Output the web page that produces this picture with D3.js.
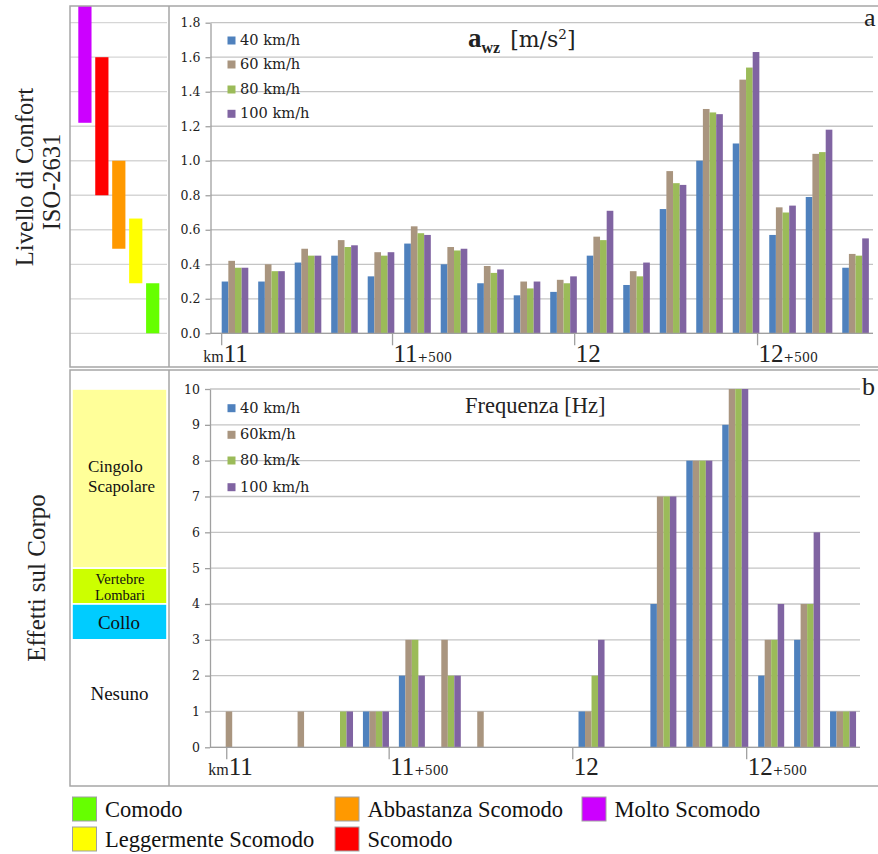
<!DOCTYPE html>
<html>
<head>
<meta charset="utf-8">
<script src="https://cdn.jsdelivr.net/npm/d3@7"></script>
<style>
  html, body { margin: 0; padding: 0; background: #fff; }
  svg { display: block; }
</style>
</head>
<body>
<svg id="fig" width="878" height="854"></svg>
<script>
// ---- data ---------------------------------------------------------------
const stations = ["S01","S02","S03","S04","S05","S06","S07","S08","S09",
                  "S10","S11","S12","S13","S14","S15","S16","S17","S18"];
const speeds = ["40 km/h", "60 km/h", "80 km/h", "100 km/h"];
const speedColors = ["#4f81bd", "#a9957f", "#9bbb59", "#8064a2"];

// weighted vertical acceleration a_wz [m/s^2]
const aw40  = [0.30,0.30,0.41,0.45,0.33,0.52,0.40,0.29,0.22,0.24,0.45,0.28,0.72,1.00,1.10,0.57,0.79,0.38];
const aw60  = [0.42,0.40,0.49,0.54,0.47,0.62,0.50,0.39,0.30,0.31,0.56,0.36,0.94,1.30,1.47,0.73,1.04,0.46];
const aw80  = [0.38,0.36,0.45,0.50,0.45,0.58,0.48,0.35,0.26,0.29,0.54,0.33,0.87,1.28,1.54,0.70,1.05,0.45];
const aw100 = [0.38,0.36,0.45,0.51,0.47,0.57,0.49,0.37,0.30,0.33,0.71,0.41,0.86,1.27,1.63,0.74,1.18,0.55];

// dominant frequency [Hz]
const f40  = [0,0,0,0,1,2,0,0,0,0,1,0,4,8,9,2,3,1];
const f60  = [1,0,1,0,1,3,3,1,0,0,1,0,7,8,10,3,4,1];
const f80  = [0,0,0,1,1,3,2,0,0,0,2,0,7,8,10,3,4,1];
const f100 = [0,0,0,1,1,2,2,0,0,0,3,0,7,8,10,4,6,1];

const awTicks = [0,0.2,0.4,0.6,0.8,1.0,1.2,1.4,1.6,1.8];
const fTicks  = [0,1,2,3,4,5,6,7,8,9,10];

// chainage ticks, expressed as station offsets along each chart
const kmMain   = ["11", "11", "12", "12"];
const kmSuffix = ["", "+500", "", "+500"];
const kmAtTop    = [0, 4.68, 9.67, 14.68];
const kmAtBottom = [0.21, 4.73, 9.84, 14.68];

// ISO 2631 comfort classes (ranges of a_wz)
const comfortNames = ["Molto Scomodo", "Scomodo", "Abbastanza Scomodo", "Leggermente Scomodo", "Comodo"];
const comfortColors = ["#cc00ff", "#ff0000", "#ff9900", "#ffff00", "#66ff00"];
const comfortLow  = [1.22, 0.80, 0.49, 0.29, 0.0];
const comfortHigh = [2.50, 1.60, 1.00, 0.665, 0.29];

// body regions affected (frequency ranges)
const bodyNames  = [["Cingolo", "Scapolare"], ["Vertebre", "Lombari"], ["Collo"], ["Nesuno"]];
const bodyColors = ["#ffff99", "#ccff00", "#00ccff", "none"];
const bodyLow  = [5, 4, 3, 0];
const bodyHigh = [10, 5, 4, 3];

// ---- drawing ------------------------------------------------------------
const svg = d3.select("#fig");
svg.append("rect").attr("width", 878).attr("height", 854).attr("fill", "#fff");

const SERIF = "'Liberation Serif', 'Times New Roman', serif";
const WIDE  = "'DejaVu Serif', serif";
const frameColor = "#a6a6a6";
const gridColor = "#c4c4c4";
const textColor = "#222";

const defs = svg.append("defs");
defs.append("clipPath").attr("id", "clipTop")
  .append("rect").attr("x", 70).attr("y", 6).attr("width", 810).attr("height", 361);

function barChart(g, opts) {
  const { y, x0, x1, left, right, series, kmAt } = opts;
  const x = d3.scaleBand().domain(stations).range([x0, x1])
    .paddingInner(opts.padIn).paddingOuter(opts.padOut).align(opts.align);
  const xs = d3.scaleBand().domain(speeds).range([0, x.bandwidth()]);

  // grid
  g.append("g").selectAll("line").data(opts.ticks).join("line")
    .attr("x1", left).attr("x2", right)
    .attr("y1", d => y(d)).attr("y2", d => y(d))
    .attr("stroke", gridColor).attr("stroke-width", 1.3);

  // y axis
  const ax = g.append("g").attr("transform", `translate(${left},0)`)
    .call(d3.axisLeft(y).tickValues(opts.ticks).tickFormat(opts.fmt).tickSize(5).tickSizeOuter(0));
  ax.select(".domain").attr("stroke", "#a0a0a0").attr("stroke-width", 1.3);
  ax.selectAll(".tick line").attr("stroke", "#a0a0a0").attr("stroke-width", 1.3);
  ax.selectAll(".tick text").attr("x", -10).attr("fill", textColor)
    .style("font-family", WIDE).style("font-size", "12.5px");

  // bars
  const rows = stations.map((s, i) => ({ s, vals: series.map(a => a[i]) }));
  const grp = g.append("g").selectAll("g").data(rows).join("g")
    .attr("transform", d => `translate(${x(d.s)},0)`);
  grp.selectAll("rect").data(d => d.vals.map((v, k) => ({ v, k }))).join("rect")
    .attr("x", d => xs(speeds[d.k]))
    .attr("width", xs.bandwidth())
    .attr("y", d => y(d.v))
    .attr("height", d => y(0) - y(d.v))
    .attr("fill", d => speedColors[d.k]);

  // baseline
  g.append("line").attr("x1", left).attr("x2", right)
    .attr("y1", y(0)).attr("y2", y(0)).attr("stroke", "#a0a0a0").attr("stroke-width", 1.3);

  // chainage ticks
  const st = d3.scaleLinear().domain([0, stations.length - 1])
    .range([x(stations[0]), x(stations[stations.length - 1])]);
  kmAt.forEach((p, i) => {
    const tx = st(p);
    g.append("line").attr("x1", tx).attr("x2", tx)
      .attr("y1", y(0)).attr("y2", y(0) + 12)
      .attr("stroke", "#a0a0a0").attr("stroke-width", 1.3);
    const t = g.append("text").attr("y", y(0) + opts.labelDy)
      .attr("fill", textColor).style("font-family", SERIF);
    if (i === 0) {
      t.attr("x", tx - 18.5);
      t.append("tspan").text("km").style("font-size", "16px");
      t.append("tspan").text(kmMain[i]).style("font-size", "25px");
    } else {
      t.attr("x", tx + 1);
      t.append("tspan").text(kmMain[i]).style("font-size", "25px");
      t.append("tspan").text(kmSuffix[i]).style("font-family", WIDE).style("font-size", "12.5px");
    }
  });

  // legend
  const lg = g.append("g");
  opts.legendLabels.forEach((lab, k) => {
    const by = opts.legendY[k];
    lg.append("rect").attr("x", 227.5).attr("y", by - 8.5)
      .attr("width", 8).attr("height", 8).attr("fill", speedColors[k]);
    lg.append("text").attr("x", 240).attr("y", by).text(lab)
      .attr("fill", textColor).style("font-family", WIDE).style("font-size", "14.6px");
  });
  return x;
}

// ===== panel a : comfort =====
const gA = svg.append("g");
const yA = d3.scaleLinear().domain([0, 1.8]).range([333.3, 22.7]);

// left strip grid and comfort bars
gA.append("g").selectAll("line").data(awTicks).join("line")
  .attr("x1", 70).attr("x2", 167)
  .attr("y1", d => yA(d)).attr("y2", d => yA(d))
  .attr("stroke", "#d6d6d6").attr("stroke-width", 1.3);
const xC = d3.scaleBand().domain(comfortNames).range([78.3, 159.3]).paddingInner(0.22);
gA.append("g").attr("clip-path", "url(#clipTop)")
  .selectAll("rect").data(comfortNames).join("rect")
  .attr("x", d => xC(d)).attr("width", xC.bandwidth())
  .attr("y", (d, i) => yA(comfortHigh[i]))
  .attr("height", (d, i) => yA(comfortLow[i]) - yA(comfortHigh[i]))
  .attr("fill", (d, i) => comfortColors[i]);

barChart(gA, {
  y: yA, x0: 210.5, x1: 873, left: 210.5, right: 873,
  padIn: 0.271, padOut: 0.21, align: 0.73,
  series: [aw40, aw60, aw80, aw100], ticks: awTicks, fmt: d3.format(".1f"),
  kmAt: kmAtTop, labelDy: 29,
  legendLabels: ["40 km/h", "60 km/h", "80 km/h", "100 km/h"],
  legendY: [45, 69, 94, 118.3]
});

// title a_wz [m/s2]
const tA = gA.append("text").attr("x", 468).attr("y", 46.7).attr("fill", textColor);
tA.append("tspan").text("a").style("font-family", SERIF).style("font-weight", "bold").style("font-size", "27px");
tA.append("tspan").text("wz").attr("dy", 6).style("font-family", SERIF).style("font-weight", "bold").style("font-size", "16px");
tA.append("tspan").text("[m/s").attr("dy", -6).attr("dx", 10).style("font-family", WIDE).style("font-size", "22px");
tA.append("tspan").text("2").attr("dy", -8).style("font-family", WIDE).style("font-size", "13.5px");
tA.append("tspan").text("]").attr("dy", 8).style("font-family", WIDE).style("font-size", "22px");

gA.append("text").attr("x", 864).attr("y", 26).text("a")
  .attr("fill", textColor).style("font-family", SERIF).style("font-size", "26px");

// y title
gA.append("text").attr("transform", "translate(33,177) rotate(-90)")
  .attr("text-anchor", "middle").text("Livello di Confort")
  .attr("fill", textColor).style("font-family", SERIF).style("font-size", "24.5px");
gA.append("text").attr("transform", "translate(60,182) rotate(-90)")
  .attr("text-anchor", "middle").text("ISO-2631")
  .attr("fill", textColor).style("font-family", SERIF).style("font-size", "24.5px");

// frame
gA.append("rect").attr("x", 70).attr("y", 6).attr("width", 812).attr("height", 361)
  .attr("fill", "none").attr("stroke", frameColor).attr("stroke-width", 1.5);
gA.append("line").attr("x1", 169).attr("x2", 169).attr("y1", 6).attr("y2", 367)
  .attr("stroke", frameColor).attr("stroke-width", 1.5);

// ===== panel b : frequency =====
const gB = svg.append("g");
const yB = d3.scaleLinear().domain([0, 10]).range([747.3, 389]);

// body-region blocks
const bodyG = gB.append("g");
bodyNames.forEach((nm, i) => {
  if (bodyColors[i] !== "none") {
    bodyG.append("rect").attr("x", 72).attr("width", 95)
      .attr("y", yB(bodyHigh[i])).attr("height", yB(bodyLow[i]) - yB(bodyHigh[i]))
      .attr("fill", bodyColors[i]).attr("stroke", "#fff").attr("stroke-width", 1.6);
  }
});
const bodyText = [
  { x: 88, anchor: "start", y: [471.5, 491.5], size: 17 },
  { x: 120, anchor: "middle", y: [584, 600], size: 14.5 },
  { x: 119, anchor: "middle", y: [628.5], size: 19 },
  { x: 119.5, anchor: "middle", y: [699.5], size: 19 }
];
bodyText.forEach((b, i) => bodyNames[i].forEach((ln, j) => {
  bodyG.append("text").attr("x", b.x).attr("y", b.y[j]).attr("text-anchor", b.anchor)
    .text(ln).attr("fill", "#111").style("font-family", SERIF).style("font-size", b.size + "px");
}));

barChart(gB, {
  y: yB, x0: 210, x1: 860, left: 210, right: 860,
  padIn: 0.276, padOut: 0.183, align: 0.70,
  series: [f40, f60, f80, f100], ticks: fTicks, fmt: d3.format("d"),
  kmAt: kmAtBottom, labelDy: 28,
  legendLabels: ["40 km/h", "60km/h", "80 km/k", "100 km/h"],
  legendY: [412.7, 439.3, 465, 491.7]
});

gB.append("text").attr("x", 465).attr("y", 413).text("Frequenza [Hz]")
  .attr("fill", textColor).style("font-family", SERIF).style("font-size", "22.5px");
gB.append("text").attr("x", 862).attr("y", 395).text("b")
  .attr("fill", textColor).style("font-family", SERIF).style("font-size", "26px");

gB.append("text").attr("transform", "translate(45,578) rotate(-90)")
  .attr("text-anchor", "middle").text("Effetti sul Corpo")
  .attr("fill", textColor).style("font-family", SERIF).style("font-size", "25px");

gB.append("rect").attr("x", 70).attr("y", 370).attr("width", 812).attr("height", 416)
  .attr("fill", "none").attr("stroke", frameColor).attr("stroke-width", 1.5);
gB.append("line").attr("x1", 169).attr("x2", 169).attr("y1", 370).attr("y2", 786)
  .attr("stroke", frameColor).attr("stroke-width", 1.5);

// ===== comfort legend =====
const legendOrder = ["Comodo", "Abbastanza Scomodo", "Molto Scomodo", "Leggermente Scomodo", "Scomodo"];
const legendX = [72.5, 335, 582, 72.5, 335];
const legendRow = [0, 0, 0, 1, 1];
const lgC = svg.append("g");
legendOrder.forEach((nm, i) => {
  const ci = comfortNames.indexOf(nm);
  const top = legendRow[i] === 0 ? 797 : 827;
  lgC.append("rect").attr("x", legendX[i]).attr("y", top).attr("width", 24).attr("height", 24)
    .attr("fill", comfortColors[ci]).attr("stroke", "#a0a0a0").attr("stroke-width", 1);
  lgC.append("text").attr("x", legendX[i] + 32.5).attr("y", top + 20)
    .text(nm).attr("fill", "#111").style("font-family", SERIF).style("font-size", "22.5px");
});
</script>
</body>
</html>
